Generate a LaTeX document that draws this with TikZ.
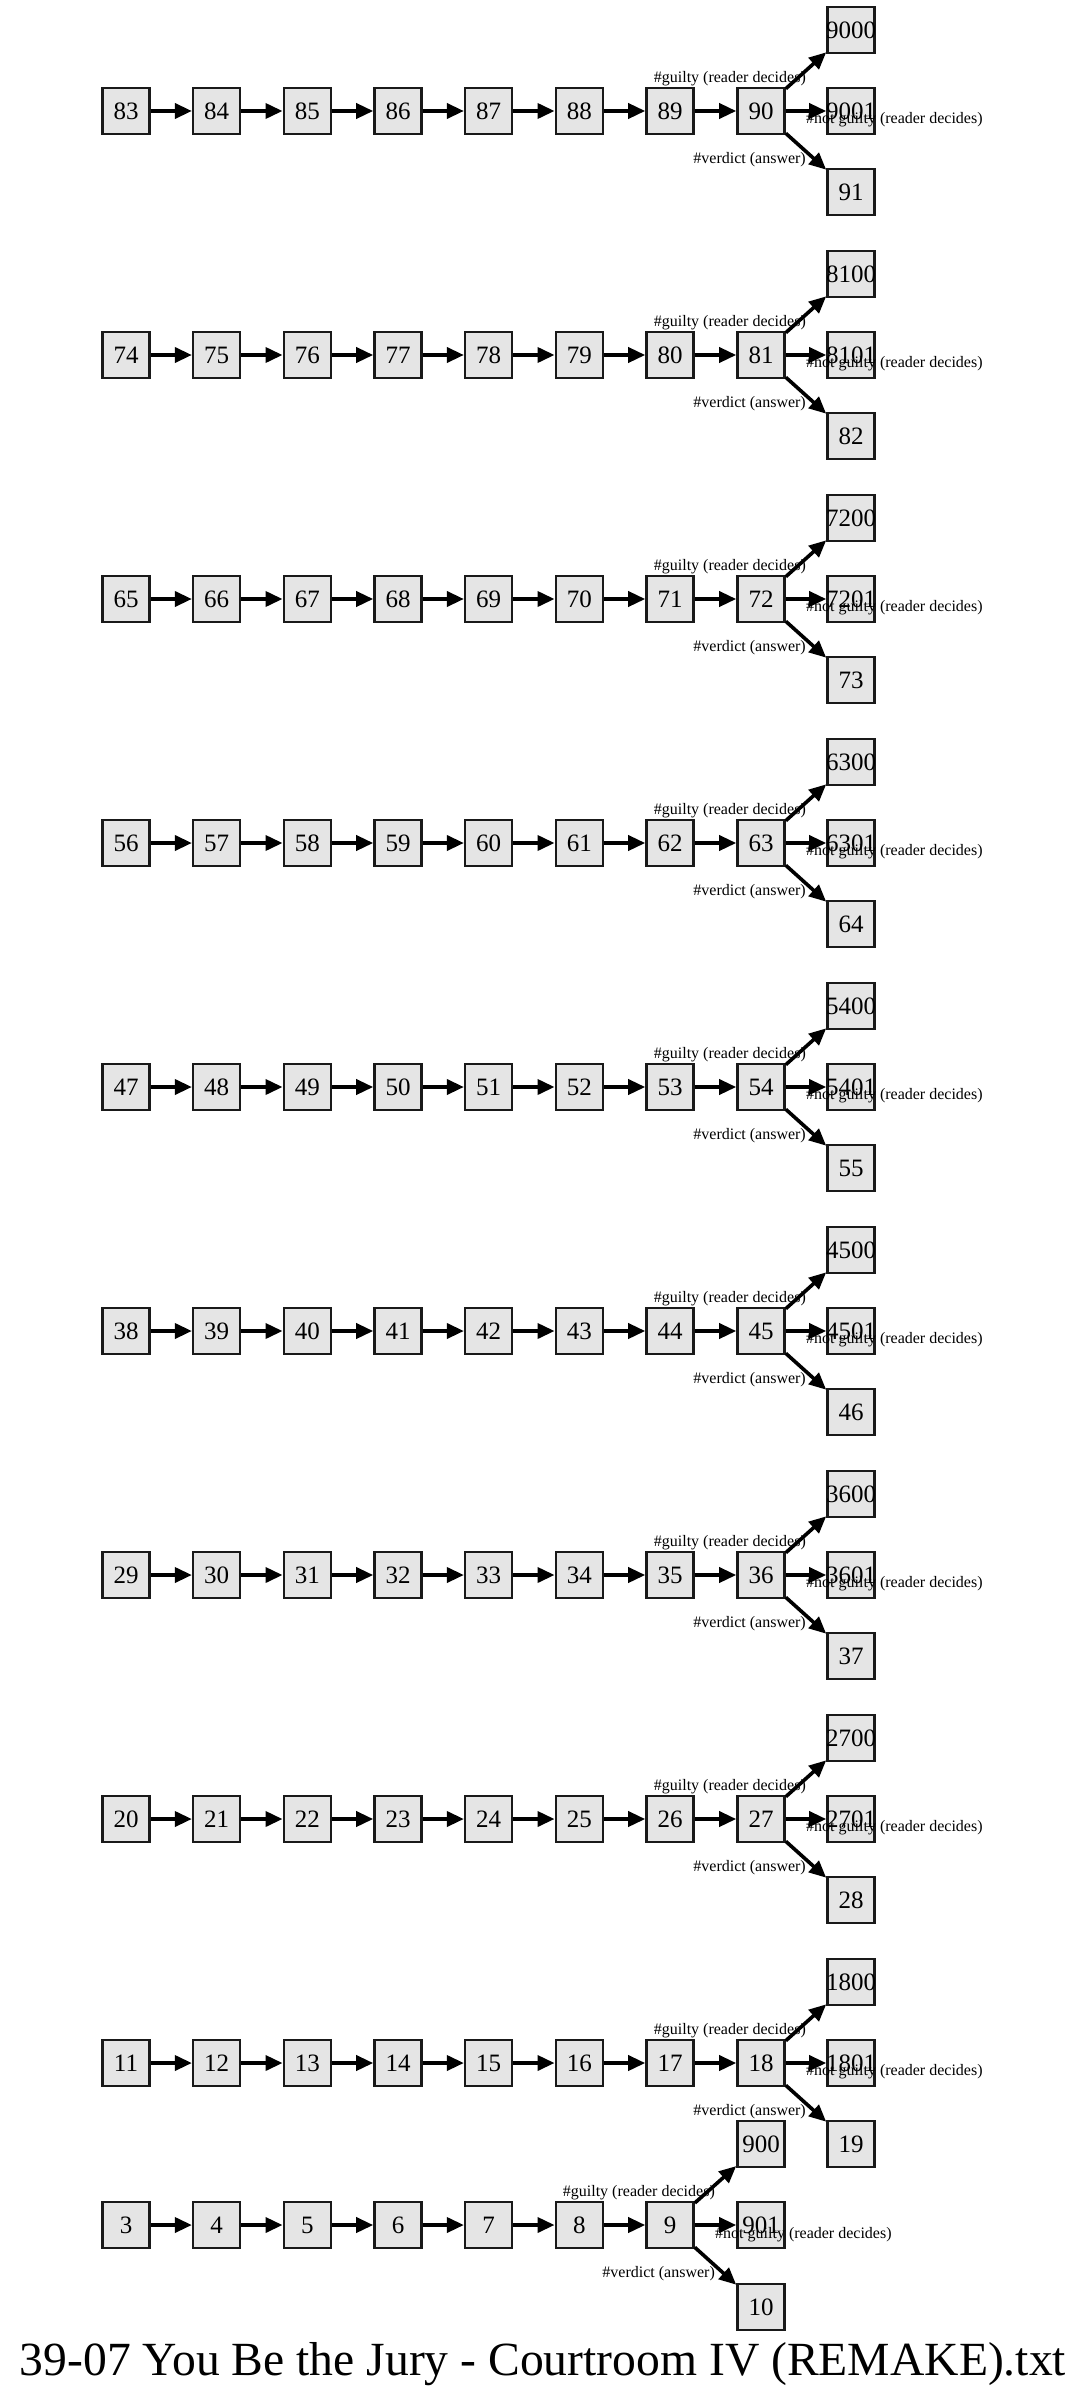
\documentclass[tikz,border=0pt]{standalone}
\usepackage{fontspec}
\setmainfont{Liberation Serif}
\usetikzlibrary{arrows.meta,calc}
\tikzset{
  box/.style={draw=black!90, fill=black!10, line width=2.6pt, minimum width=47pt, minimum height=46pt, inner sep=0pt, font=\fontsize{25}{30}\selectfont},
  edge/.style={line width=3.6pt, -{Triangle[length=17pt,width=15pt]}},
  lbl/.style={inner sep=0pt, font=\fontsize{16}{19}\selectfont},
  ttl/.style={inner sep=0pt, font=\fontsize{47.6}{57}\selectfont}
}
\begin{document}
\begin{tikzpicture}[x=1pt,y=-1pt]
\useasboundingbox (0,0) rectangle (1084,2395);
\foreach \r/\a in {0/83,1/74,2/65,3/56,4/47,5/38,6/29,7/20,8/11} {
  \pgfmathsetmacro\yy{111+244*\r}
  \foreach \i in {0,...,6} {
    \pgfmathtruncatemacro\n{\a+\i}
    \node[box] (n\n) at ({126+90.67*\i},\yy) {\makebox[0pt]{\n}};
  }
  \pgfmathtruncatemacro\b{\a+7}
  \pgfmathtruncatemacro\c{\a+8}
  \pgfmathtruncatemacro\g{\b*100}
  \pgfmathtruncatemacro\h{\b*100+1}
  \node[box] (n\b) at (761,\yy) {\makebox[0pt]{\b}};
  \node[box] (n\g) at (851,{\yy-81}) {\makebox[0pt]{\g}};
  \node[box] (n\h) at (851,\yy) {\makebox[0pt]{\h}};
  \node[box] (n\c) at (851,{\yy+81}) {\makebox[0pt]{\c}};
  \foreach \i in {0,...,6} {
    \pgfmathtruncatemacro\p{\a+\i}
    \pgfmathtruncatemacro\q{\a+\i+1}
    \draw[edge] (n\p) -- (n\q);
  }
  \draw[edge] (n\b) -- (n\g);
  \draw[edge] (n\b) -- (n\h);
  \draw[edge] (n\b) -- (n\c);
  \node[lbl, anchor=east] (lg\b) at ($(n\b)+(45,-32)$) {\#guilty (reader decides)};
  \node[lbl, anchor=west] (ln\b) at ($(n\b)+(45,9)$) {\#not guilty (reader decides)};
  \node[lbl, anchor=east] (lv\b) at ($(n\b)+(45,49)$) {\#verdict (answer)};
}
% bottom row
\foreach \i in {0,...,6} {
  \pgfmathtruncatemacro\n{3+\i}
  \node[box] (n\n) at ({126+90.67*\i},2225) {\makebox[0pt]{\n}};
}
\node[box] (n900) at (761,2144) {\makebox[0pt]{900}};
\node[box] (n901) at (761,2225) {\makebox[0pt]{901}};
\node[box] (n10) at (761,2307) {\makebox[0pt]{10}};
\foreach \i in {3,...,8} {
  \pgfmathtruncatemacro\q{\i+1}
  \draw[edge] (n\i) -- (n\q);
}
\draw[edge] (n9) -- (n900);
\draw[edge] (n9) -- (n901);
\draw[edge] (n9) -- (n10);
\node[lbl, anchor=east] (lg9) at ($(n9)+(45,-32)$) {\#guilty (reader decides)};
\node[lbl, anchor=west] (ln9) at ($(n9)+(45,10)$) {\#not guilty (reader decides)};
\node[lbl, anchor=east] (lv9) at ($(n9)+(45,49)$) {\#verdict (answer)};
\node[ttl, anchor=base] (title) at (543,2375) {39-07 You Be the Jury - Courtroom IV (REMAKE).txt};
\end{tikzpicture}
\end{document}
